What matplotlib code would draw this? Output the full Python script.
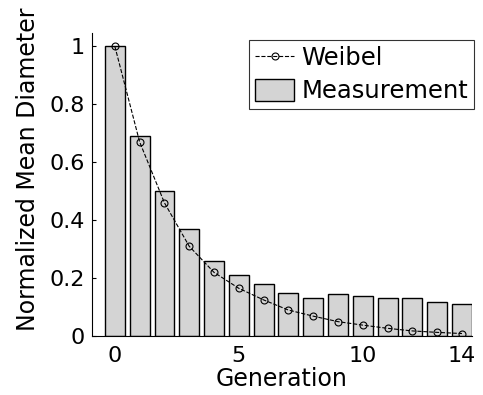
import matplotlib.pyplot as plt

# Generation index, measured bars and Weibel model line
generation = [0, 1, 2, 3, 4, 5, 6, 7, 8, 9, 10, 11, 12, 13, 14]
measurement = [1.0, 0.69, 0.50, 0.37, 0.26, 0.21, 0.18, 0.15, 0.132, 0.145, 0.137, 0.132, 0.13, 0.118, 0.11]
weibel = [1.0, 0.67, 0.46, 0.31, 0.22, 0.165, 0.125, 0.09, 0.069, 0.05, 0.038, 0.027, 0.018, 0.013, 0.009]

xticks = [0, 5, 10, 14]
yticks = [0, 0.2, 0.4, 0.6, 0.8, 1.0]
ytick_labels = ['0', '0.2', '0.4', '0.6', '0.8', '1']

plt.rcParams['font.family'] = 'DejaVu Sans'

fig = plt.figure(figsize=(4.83, 3.95), dpi=100)
ax = fig.add_axes([0.19, 0.149, 0.787, 0.767])

ax.bar(generation, measurement, width=0.8, color='#d4d4d4', edgecolor='black',
       linewidth=1.0, label='Measurement', zorder=2)
ax.plot(generation, weibel, linestyle='--', color='black', linewidth=0.8,
        marker='o', markersize=5, markerfacecolor='none', markeredgewidth=0.8,
        label='Weibel', zorder=3)

ax.set_xlim(-0.93, 14.4)
ax.set_ylim(0, 1.045)
ax.set_xticks(xticks)
ax.set_yticks(yticks)
ax.set_yticklabels(ytick_labels)
ax.tick_params(labelsize=16, direction='in', length=3)
ax.tick_params(axis='x', pad=7)
ax.tick_params(axis='y', pad=5)
ax.spines['top'].set_visible(False)
ax.spines['right'].set_visible(False)

ax.set_xlabel('Generation', fontsize=17, labelpad=0.5)
ax.set_ylabel('Normalized Mean Diameter', fontsize=17)
ax.yaxis.set_label_coords(-0.135, 0.55)

leg = ax.legend(loc='upper right', bbox_to_anchor=(1.006, 0.977), fontsize=17.5,
                frameon=True, fancybox=False, edgecolor='black',
                handlelength=1.6, handleheight=1.0, handletextpad=0.3,
                borderpad=0.25, labelspacing=0.35, borderaxespad=0.0)
leg.get_frame().set_linewidth(0.8)

fig.savefig('out.png', dpi=100)
